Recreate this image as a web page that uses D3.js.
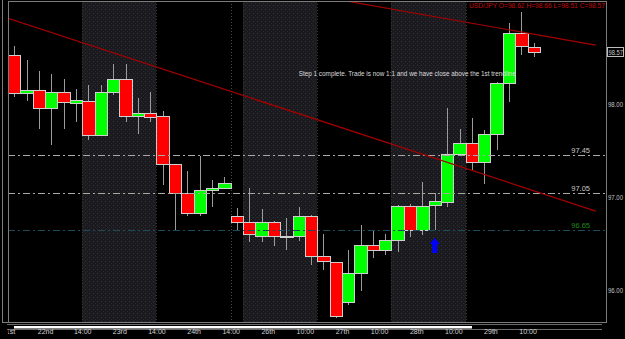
<!DOCTYPE html>
<html>
<head>
<meta charset="utf-8">
<script src="https://cdn.jsdelivr.net/npm/d3@7"></script>
<style>
html, body { margin: 0; padding: 0; background: #000; }
svg { display: block; }
text { font-family: "Liberation Sans", "DejaVu Sans", sans-serif; }
</style>
</head>
<body>
<svg id="chart" width="625" height="339"></svg>
<script>
// USD/JPY 4h candles
var gOpens  = [98.53, 98.12, 98.16, 97.96, 98.13, 98.02, 98.04, 97.67, 98.14, 98.27, 97.88, 97.91, 97.88, 97.36, 97.05, 96.83, 97.08, 97.10, 96.80, 96.73, 96.58, 96.73, 96.58, 96.58, 96.80, 96.37, 96.30, 95.87, 96.18, 96.48, 96.43, 96.54, 96.90, 96.65, 96.92, 96.95, 97.47, 97.59, 97.38, 97.68, 98.23, 98.77, 98.62];
var gHighs  = [98.63, 98.48, 98.36, 98.33, 98.27, 98.17, 98.21, 98.21, 98.44, 98.44, 98.07, 98.14, 97.93, 97.36, 97.28, 97.44, 97.19, 97.22, 96.88, 97.10, 96.87, 96.74, 96.78, 96.89, 96.81, 96.60, 96.30, 96.43, 96.70, 96.65, 96.60, 96.92, 96.93, 97.16, 97.05, 97.96, 97.74, 97.85, 97.72, 98.24, 98.88, 99.00, 98.66];
var gLows   = [98.08, 98.04, 97.74, 97.56, 97.74, 97.81, 97.62, 97.66, 98.10, 97.81, 97.68, 97.81, 97.13, 96.63, 96.80, 96.80, 96.89, 97.10, 96.63, 96.52, 96.52, 96.47, 96.43, 96.53, 96.27, 96.21, 95.70, 95.84, 95.99, 96.34, 96.38, 96.41, 96.57, 96.59, 96.65, 96.89, 97.47, 97.29, 97.14, 97.51, 98.03, 98.53, 98.51];
var gCloses = [98.12, 98.16, 97.96, 98.13, 98.03, 98.05, 97.67, 98.13, 98.27, 97.88, 97.91, 97.86, 97.36, 97.05, 96.83, 97.08, 97.10, 97.15, 96.73, 96.60, 96.73, 96.58, 96.58, 96.80, 96.37, 96.31, 95.72, 96.18, 96.48, 96.43, 96.54, 96.90, 96.65, 96.90, 96.96, 97.47, 97.59, 97.38, 97.68, 98.23, 98.77, 98.63, 98.57];

var gTimeIndex  = [0, 3, 6, 9, 12, 15, 18, 21, 24, 27, 30, 33, 36, 39, 42];
var gTimeLabels = ["21st", "22nd", "14:00", "23rd", "14:00", "24th", "14:00", "26th", "10:00", "27th", "10:00", "28th", "10:00", "29th", "10:00"];
var gPriceTicks = [96, 97, 98];
var gShadedDays = [[6, 12], [19, 25], [31, 37]];
var gSessionBreaks = [18];
var gLevels = [97.45, 97.05, 96.65];
var gTrendIndex = [[0, 47.51], [27.19, 47.51]];
var gTrendPrice = [[98.93, 96.85], [99.12, 98.64]];
var gArrowAt = [34.5, 96.56];
var gNote = "Step 1 complete. Trade is now 1:1 and we have close above the 1st trendline";
var gNoteAt = [23.5, 98.31];
var gSymbol = "USD/JPY";

var W = 625, H = 339;
var plotLeft = 8, plotRight = 606, plotTop = 1, plotBottom = 322;
var step = 12.37;

var svg = d3.select("#chart");
svg.append("rect").attr("width", W).attr("height", H).attr("fill", "#000");

var x = d3.scaleLinear().domain([0, gOpens.length]).range([plotLeft, plotLeft + step * gOpens.length]);
var y = d3.scaleLinear().domain([96, 98]).range([289.9, 104.5]);

var defs = svg.append("defs");
var pat = defs.append("pattern").attr("id", "dots").attr("width", 4).attr("height", 4).attr("patternUnits", "userSpaceOnUse");
pat.append("rect").attr("width", 4).attr("height", 4).attr("fill", "#1a1a1f");
pat.append("rect").attr("x", 1).attr("y", 1).attr("width", 1).attr("height", 1).attr("fill", "#32323a");
pat.append("rect").attr("x", 3).attr("y", 3).attr("width", 1).attr("height", 1).attr("fill", "#28282f");
defs.append("clipPath").attr("id", "plot-clip").append("rect")
  .attr("x", plotLeft + 1).attr("y", plotTop + 1).attr("width", plotRight - plotLeft - 1).attr("height", plotBottom - plotTop - 1);
defs.append("clipPath").attr("id", "axis-clip").append("rect")
  .attr("x", plotLeft).attr("y", plotBottom).attr("width", W - plotLeft).attr("height", H - plotBottom);

var plot = svg.append("g").attr("clip-path", "url(#plot-clip)");

// shaded day sessions
plot.selectAll(".day").data(gShadedDays).enter().append("rect")
  .attr("x", function(d) { return Math.round(x(d[0])); })
  .attr("width", function(d) { return Math.round(x(d[1])) - Math.round(x(d[0])); })
  .attr("y", plotTop).attr("height", plotBottom - plotTop)
  .attr("fill", "url(#dots)");
plot.selectAll(".edge").data(d3.merge(gShadedDays)).enter().append("line")
  .attr("x1", function(d) { return Math.round(x(d)) + 0.5; })
  .attr("x2", function(d) { return Math.round(x(d)) + 0.5; })
  .attr("y1", plotTop).attr("y2", plotBottom)
  .attr("stroke", "#3a342a").attr("stroke-dasharray", "1,2");
plot.selectAll(".brk").data(gSessionBreaks).enter().append("line")
  .attr("x1", function(d) { return Math.round(x(d)) + 0.5; })
  .attr("x2", function(d) { return Math.round(x(d)) + 0.5; })
  .attr("y1", plotTop).attr("y2", plotBottom)
  .attr("stroke", "#4a4a4a").attr("stroke-dasharray", "1,2");

// candles
var candles = plot.selectAll(".candle").data(gOpens).enter().append("g");
candles.append("line")
  .attr("x1", function(d, i) { return Math.round(x(i + 0.5)) + 0.5; })
  .attr("x2", function(d, i) { return Math.round(x(i + 0.5)) + 0.5; })
  .attr("y1", function(d, i) { return Math.round(y(gHighs[i])); })
  .attr("y2", function(d, i) { return Math.round(y(gLows[i])); })
  .attr("stroke", "#9c9c9c");
candles.append("rect")
  .attr("shape-rendering", "crispEdges")
  .attr("x", function(d, i) { return Math.round(x(i)) + 0.5; })
  .attr("width", function(d, i) { return Math.round(x(i + 1)) - Math.round(x(i)); })
  .attr("y", function(d, i) { return Math.round(y(Math.max(d, gCloses[i]))) + 0.5; })
  .attr("height", function(d, i) {
    return Math.max(1, Math.round(y(Math.min(d, gCloses[i]))) - Math.round(y(Math.max(d, gCloses[i]))));
  })
  .attr("fill", function(d, i) { return gCloses[i] > d ? "#00ff00" : gCloses[i] < d ? "#ff0000" : "#000"; })
  .attr("stroke", "#cfcfcf");

// horizontal levels
var levelStroke = ["#a9a9a9", "#a9a9a4", "#1f4a5a"];
var levelText = ["#c8c8c8", "#c8c8c8", "#1e8a1e"];
plot.selectAll(".level").data(gLevels).enter().append("line")
  .attr("x1", plotLeft).attr("x2", plotRight)
  .attr("y1", function(d) { return Math.round(y(d)) + 0.5; })
  .attr("y2", function(d) { return Math.round(y(d)) + 0.5; })
  .attr("stroke", function(d, i) { return levelStroke[i]; })
  .attr("stroke-dasharray", "7,3,2,3");
svg.selectAll(".level-label").data(gLevels).enter().append("text")
  .attr("x", plotRight - 16).attr("y", function(d) { return Math.round(y(d)) - 2.5; })
  .attr("text-anchor", "end").attr("font-size", 7.5)
  .attr("fill", function(d, i) { return levelText[i]; })
  .text(function(d) { return d.toFixed(2); });

// trendlines
plot.selectAll(".trend").data(gTrendIndex).enter().append("line")
  .attr("x1", function(d) { return x(d[0]); })
  .attr("x2", function(d) { return x(d[1]); })
  .attr("y1", function(d, i) { return y(gTrendPrice[i][0]); })
  .attr("y2", function(d, i) { return y(gTrendPrice[i][1]); })
  .attr("stroke", "#a60000").attr("stroke-width", 1.2);

// entry arrow
var arrowShape = [[0, 0], [5, 6], [2.5, 6], [2.5, 15], [-2.5, 15], [-2.5, 6], [-5, 6]];
plot.append("path")
  .attr("transform", "translate(" + x(gArrowAt[0]) + "," + y(gArrowAt[1]) + ")")
  .attr("d", d3.line()(arrowShape) + "Z")
  .attr("fill", "#0000ff");

// note
svg.append("text")
  .attr("x", x(gNoteAt[0])).attr("y", y(gNoteAt[1]))
  .attr("font-size", 7).attr("fill", "#dcdcdc")
  .attr("textLength", 217).attr("lengthAdjust", "spacingAndGlyphs")
  .text(gNote);

// frame
svg.append("rect")
  .attr("x", plotLeft + 0.5).attr("y", plotTop + 0.5).attr("width", plotRight - plotLeft).attr("height", plotBottom - plotTop)
  .attr("fill", "none").attr("stroke", "#7c7c7c");
svg.append("line").attr("x1", 2.5).attr("x2", 2.5).attr("y1", 0).attr("y2", plotBottom + 0.5).attr("stroke", "#7c7c7c");
svg.append("line").attr("x1", 2).attr("x2", plotRight).attr("y1", plotBottom + 0.5).attr("y2", plotBottom + 0.5).attr("stroke", "#7c7c7c");

// header
var last = gOpens.length - 1;
svg.append("text")
  .attr("x", 469).attr("y", 8)
  .attr("font-size", 7.5).attr("fill", "#c20a0a")
  .attr("textLength", 136).attr("lengthAdjust", "spacingAndGlyphs")
  .text(gSymbol + " O=" + gOpens[last].toFixed(2) + " H=" + gHighs[last].toFixed(2) +
        " L=" + gLows[last].toFixed(2) + " C=" + gCloses[last].toFixed(2));

// price axis
var yAxis = svg.append("g").attr("transform", "translate(" + plotRight + ",0)")
  .call(d3.axisRight(y).tickValues(gPriceTicks).tickFormat(d3.format(".2f")).tickSize(0).tickPadding(2));
yAxis.select(".domain").remove();
yAxis.selectAll("text").attr("font-size", 7).attr("fill", "#c4c4c4").attr("font-family", "Liberation Sans")
  .attr("textLength", 15).attr("lengthAdjust", "spacingAndGlyphs");

var lastY = Math.round(y(gCloses[last]));
svg.append("rect").attr("x", plotRight + 1.5).attr("y", lastY - 4.5).attr("width", 16).attr("height", 9)
  .attr("fill", "#000").attr("stroke", "#bdbdbd");
svg.append("text").attr("x", plotRight + 2.5).attr("y", lastY + 2.7)
  .attr("font-size", 7).attr("fill", "#c4c4c4")
  .attr("textLength", 14.5).attr("lengthAdjust", "spacingAndGlyphs")
  .text(gCloses[last].toFixed(2));

// time axis and scroll bar
svg.append("line").attr("x1", plotLeft - 1).attr("x2", 602).attr("y1", 324.5).attr("y2", 324.5).attr("stroke", "#6a6a6a");
svg.append("line").attr("x1", plotLeft - 1).attr("x2", 602).attr("y1", 329.5).attr("y2", 329.5).attr("stroke", "#6a6a6a");
svg.append("rect").attr("x", 14).attr("y", 326).attr("width", 458).attr("height", 2.5).attr("fill", "#ffffff");

var xAxis = svg.append("g").attr("clip-path", "url(#axis-clip)").append("g")
  .attr("transform", "translate(0,326)")
  .call(d3.axisBottom(x).tickValues(gTimeIndex)
    .tickFormat(function(d, i) { return gTimeLabels[i]; }).tickSize(0).tickPadding(3));
xAxis.select(".domain").remove();
xAxis.selectAll("text").attr("font-size", 7).attr("fill", "#d4d4d4").attr("font-family", "Liberation Sans");
</script>
</body>
</html>
